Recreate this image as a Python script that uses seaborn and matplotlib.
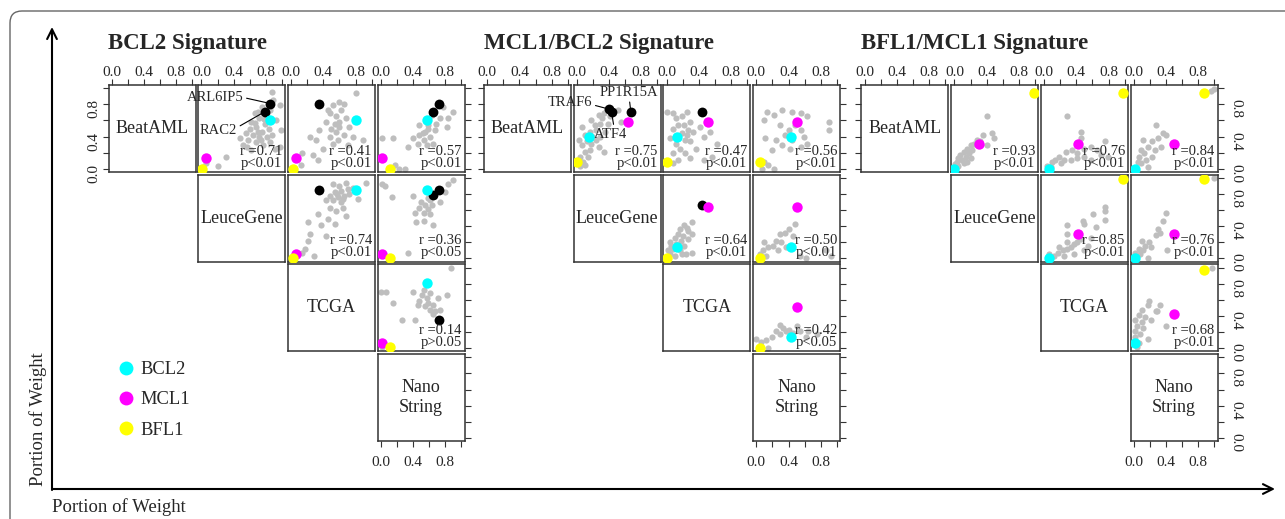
import numpy as np
import pandas as pd
import matplotlib
matplotlib.use("Agg")
import matplotlib.pyplot as plt
import seaborn as sns
from matplotlib.patches import FancyBboxPatch, FancyArrowPatch
from matplotlib.lines import Line2D
from matplotlib.transforms import IdentityTransform

sns.set_style("white")
plt.rcParams['font.family'] = ['Liberation Serif', 'DejaVu Serif']

# =====================
# DATA
# =====================
datasets = ["BeatAML", "LeuceGene", "TCGA", "Nano\nString"]
titles = ["BCL2 Signature", "MCL1/BCL2 Signature", "BFL1/MCL1 Signature"]
pairs = [(0, 1), (0, 2), (0, 3), (1, 2), (1, 3), (2, 3)]

r_bcl2 = ["0.71", "0.41", "0.57", "0.74", "0.36", "0.14"]
p_bcl2 = ["p<0.01", "p<0.01", "p<0.01", "p<0.01", "p<0.05", "p>0.05"]
r_mcl1 = ["0.75", "0.47", "0.56", "0.64", "0.50", "0.42"]
p_mcl1 = ["p<0.01", "p<0.01", "p<0.01", "p<0.01", "p<0.01", "p<0.05"]
r_bfl1 = ["0.93", "0.76", "0.84", "0.85", "0.76", "0.68"]
p_bfl1 = ["p<0.01"] * 6

# highlighted genes: value in BeatAML, LeuceGene, TCGA, NanoString
g1_bcl2 = [0.61, 0.855, 0.81, 0.57]
g1_mcl1 = [0.13, 0.055, 0.065, 0.02]
g1_bfl1 = [0.0, 0.01, 0.02, 0.11]
g1_arl6ip5 = [0.81, 0.855, 0.35, 0.72]
g1_rac2 = [0.71, 0.79, np.nan, 0.65]

g2_bcl2 = [0.40, 0.145, 0.135, 0.43]
g2_mcl1 = [0.58, 0.635, 0.515, 0.505]
g2_bfl1 = [0.08, 0.0, 0.0, 0.045]
g2_pp1r15a = [0.70, 0.67, 0.435, np.nan]
g2_traf6 = [0.74, 0.40, np.nan, np.nan]
g2_atf4 = [0.70, 0.43, np.nan, np.nan]

g3_bcl2 = [0.0, 0.0, 0.065, 0.015]
g3_mcl1 = [0.31, 0.305, 0.425, 0.495]
g3_bfl1 = [0.94, 0.99, 0.975, 0.87]

# gray genes (x = column dataset, y = row dataset)
g1_p01 = [(0.88,0.95),(0.97,0.79),(0.99,0.48),(0.93,0.60),(0.97,0.27),(0.84,0.50),(0.79,0.56),
          (0.72,0.63),(0.66,0.69),(0.62,0.58),(0.68,0.52),(0.75,0.46),(0.81,0.40),(0.64,0.42),
          (0.58,0.36),(0.52,0.29),(0.68,0.33),(0.77,0.29),(0.85,0.33),(0.81,0.69),(0.75,0.77),
          (0.85,0.73),(0.60,0.50),(0.70,0.46),(0.48,0.38),(0.56,0.27),(0.62,0.23),(0.31,0.15),
          (0.21,0.03),(0.06,0.07),(0.02,0.02),(0.89,0.85),(0.91,0.25),(0.72,0.40),(0.66,0.57),
          (0.78,0.62),(0.55,0.45),(0.74,0.36),(0.70,0.70),(0.88,0.42)]
g1_p02 = [(0.81,0.94),(0.66,0.81),(0.52,0.79),(0.62,0.73),(0.48,0.69),(0.56,0.65),(0.68,0.63),
          (0.43,0.58),(0.54,0.56),(0.60,0.52),(0.50,0.50),(0.35,0.48),(0.56,0.46),(0.66,0.42),
          (0.48,0.40),(0.58,0.36),(0.31,0.36),(0.52,0.31),(0.70,0.29),(0.23,0.40),(0.14,0.19),
          (0.27,0.17),(0.12,0.05),(0.33,0.11),(0.60,0.58),(0.72,0.52),(0.46,0.73),(0.77,0.40),
          (0.89,0.36),(0.60,0.83),(0.39,0.25)]
g1_p03 = [(0.82,0.52),(0.84,0.63),(0.77,0.77),(0.67,0.48),(0.59,0.54),(0.55,0.46),(0.61,0.40),
          (0.53,0.36),(0.48,0.42),(0.65,0.31),(0.57,0.29),(0.46,0.31),(0.40,0.38),(0.34,0.27),
          (0.69,0.56),(0.63,0.67),(0.73,0.63),(0.48,0.54),(0.01,0.38),(0.15,0.38),(0.22,0.0),
          (0.30,0.0),(0.18,0.05),(0.90,0.70),(0.58,0.50),(0.52,0.44)]
g1_p12 = [(0.52,0.92),(0.60,0.90),(0.68,0.94),(0.70,0.86),(0.62,0.84),(0.54,0.82),(0.48,0.78),
          (0.58,0.76),(0.66,0.78),(0.72,0.80),(0.52,0.72),(0.62,0.70),(0.43,0.72),(0.48,0.63),
          (0.56,0.59),(0.93,0.94),(0.83,0.74),(0.33,0.55),(0.68,0.53),(0.46,0.49),(0.54,0.43),
          (0.37,0.41),(0.21,0.45),(0.23,0.30),(0.43,0.28),(0.21,0.22),(0.17,0.12),(0.29,0.03),
          (0.14,0.07),(0.77,0.88),(0.64,0.63),(0.57,0.80),(0.65,0.74)]
g1_p13 = [(0.01,0.93),(0.05,0.90),(0.14,0.76),(0.40,0.77),(0.84,0.92),(0.90,0.97),(0.80,0.82),
          (0.73,0.70),(0.61,0.72),(0.55,0.67),(0.48,0.63),(0.59,0.61),(0.42,0.57),(0.53,0.57),
          (0.61,0.55),(0.44,0.45),(0.65,0.41),(0.34,0.07),(0.58,0.75),(0.50,0.70),(0.64,0.66),
          (0.53,0.47)]
g1_p23 = [(0.87,0.99),(0.0,0.70),(0.06,0.70),(0.15,0.56),(0.40,0.70),(0.51,0.66),(0.61,0.68),
          (0.82,0.66),(0.71,0.62),(0.48,0.58),(0.59,0.56),(0.65,0.54),(0.55,0.52),(0.61,0.48),
          (0.67,0.46),(0.46,0.54),(0.73,0.48),(0.26,0.35),(0.42,0.35),(0.57,0.62),(0.53,0.72),
          (0.01,0.02),(0.65,0.43)]

g2_p01 = [(0.04,0.03),(0.08,0.09),(0.04,0.15),(0.10,0.21),(0.06,0.29),(0.12,0.34),(0.02,0.36),
          (0.18,0.31),(0.20,0.40),(0.16,0.46),(0.24,0.48),(0.22,0.54),(0.29,0.56),(0.31,0.63),
          (0.33,0.69),(0.27,0.67),(0.18,0.60),(0.37,0.73),(0.51,0.73),(0.55,0.58),(0.06,0.52),
          (0.10,0.42),(0.29,0.40),(0.35,0.46),(0.27,0.27),(0.33,0.21),(0.14,0.15),(0.10,0.05),
          (0.16,0.23),(0.39,0.56),(0.41,0.65),(0.24,0.36)]
g2_p02 = [(0.01,0.71),(0.08,0.69),(0.12,0.63),(0.19,0.65),(0.25,0.71),(0.14,0.54),(0.21,0.54),
          (0.08,0.50),(0.27,0.48),(0.19,0.44),(0.23,0.36),(0.04,0.38),(0.12,0.31),(0.29,0.34),
          (0.17,0.25),(0.08,0.19),(0.23,0.19),(0.14,0.11),(0.29,0.13),(0.08,0.07),(0.41,0.52),
          (0.46,0.40),(0.54,0.46),(0.62,0.31),(0.37,0.25),(0.46,0.11),(0.56,0.15),(0.29,0.58),
          (0.33,0.46),(0.25,0.42)]
g2_p03 = [(0.13,0.71),(0.22,0.67),(0.32,0.73),(0.44,0.71),(0.55,0.69),(0.63,0.65),(0.09,0.60),
          (0.30,0.54),(0.40,0.48),(0.48,0.54),(0.55,0.48),(0.36,0.42),(0.44,0.36),(0.24,0.36),
          (0.11,0.38),(0.32,0.29),(0.42,0.25),(0.19,0.23),(0.55,0.27),(0.90,0.58),(0.90,0.48),
          (0.09,0.09),(0.15,0.05),(0.22,0.0),(0.07,0.0),(0.59,0.40),(0.63,0.31)]
g2_p12 = [(0.31,0.45),(0.22,0.41),(0.16,0.36),(0.27,0.34),(0.31,0.30),(0.20,0.28),(0.10,0.26),
          (0.04,0.20),(0.18,0.22),(0.27,0.24),(0.12,0.18),(0.22,0.16),(0.08,0.12),(0.16,0.10),
          (0.04,0.05),(0.10,0.03),(0.24,0.05),(0.31,0.07),(0.02,0.10),(0.14,0.30),(0.25,0.38),
          (0.06,0.15),(0.19,0.06)]
g2_p13 = [(0.48,0.43),(0.41,0.36),(0.35,0.32),(0.29,0.30),(0.46,0.28),(0.25,0.22),(0.21,0.16),
          (0.14,0.14),(0.08,0.10),(0.04,0.05),(0.12,0.03),(0.27,0.10),(0.37,0.14),(0.54,0.03),
          (0.93,0.03),(0.87,0.10),(0.62,0.01),(0.10,0.20),(0.31,0.20)]
g2_p23 = [(0.29,0.29),(0.33,0.25),(0.37,0.21),(0.41,0.23),(0.46,0.19),(0.54,0.21),(0.25,0.21),
          (0.19,0.14),(0.12,0.10),(0.06,0.08),(0.0,0.12),(0.14,0.0),(0.62,0.14),(0.75,0.17),
          (0.29,0.17),(0.50,0.27),(0.64,0.21)]

g3_p01 = [(0.41,0.65),(0.47,0.44),(0.49,0.38),(0.36,0.42),(0.28,0.36),(0.20,0.29),(0.16,0.25),
          (0.12,0.21),(0.07,0.17),(0.05,0.13),(0.03,0.09),(0.01,0.06),(0.10,0.11),(0.14,0.15),
          (0.18,0.19),(0.22,0.23),(0.24,0.31),(0.32,0.34),(0.12,0.07),(0.05,0.03),(0.16,0.09),
          (0.20,0.14),(0.41,0.29),(0.98,0.97)]
g3_p02 = [(0.28,0.65),(0.46,0.46),(0.46,0.38),(0.75,0.34),(0.58,0.27),(0.35,0.23),(0.27,0.21),
          (0.19,0.15),(0.10,0.09),(0.14,0.11),(0.25,0.11),(0.33,0.11),(0.41,0.13),(0.50,0.15),
          (0.58,0.11),(0.70,0.17),(0.04,0.03),(0.08,0.02),(0.21,0.07),(0.50,0.25),(0.66,0.23),
          (0.79,0.15),(0.41,0.19)]
g3_p03 = [(0.99,0.99),(0.96,0.96),(0.28,0.54),(0.36,0.45),(0.40,0.42),(0.30,0.38),(0.11,0.36),
          (0.22,0.34),(0.17,0.27),(0.09,0.23),(0.13,0.19),(0.07,0.15),(0.05,0.09),(0.09,0.07),
          (0.15,0.11),(0.22,0.15),(0.17,0.02),(0.26,0.23),(0.34,0.27)]
g3_p12 = [(0.75,0.64),(0.75,0.59),(0.61,0.55),(0.75,0.48),(0.28,0.42),(0.48,0.47),(0.50,0.43),
          (0.28,0.31),(0.65,0.39),(0.58,0.26),(0.46,0.24),(0.41,0.20),(0.37,0.18),(0.33,0.14),
          (0.29,0.12),(0.23,0.10),(0.17,0.07),(0.12,0.03),(0.06,0.05),(0.25,0.03),(0.37,0.05),
          (0.50,0.10),(0.54,0.16),(0.43,0.28),(0.29,0.20),(0.19,0.14)]
g3_p13 = [(0.99,1.0),(0.40,0.56),(0.36,0.47),(0.30,0.36),(0.33,0.32),(0.28,0.29),(0.10,0.22),
          (0.19,0.20),(0.14,0.16),(0.06,0.12),(0.02,0.07),(0.08,0.05),(0.17,0.0),(0.41,0.10),
          (0.12,0.10),(0.21,0.14)]
g3_p23 = [(0.97,1.0),(0.19,0.58),(0.17,0.54),(0.33,0.53),(0.29,0.46),(0.10,0.48),(0.06,0.41),
          (0.14,0.39),(0.02,0.35),(0.10,0.33),(0.21,0.35),(0.04,0.27),(0.12,0.25),(0.02,0.21),
          (0.08,0.17),(0.01,0.14),(0.40,0.28),(0.17,0.11),(0.06,0.06),(0.04,0.02),(0.27,0.46)]

groups = [
    dict(title=titles[0], gray=[g1_p01, g1_p02, g1_p03, g1_p12, g1_p13, g1_p23],
         r=r_bcl2, p=p_bcl2, black=[g1_arl6ip5, g1_rac2],
         colored=[(g1_bcl2, "#00FFFF"), (g1_mcl1, "#FF00FF"), (g1_bfl1, "#FFFF00")]),
    dict(title=titles[1], gray=[g2_p01, g2_p02, g2_p03, g2_p12, g2_p13, g2_p23],
         r=r_mcl1, p=p_mcl1, black=[g2_pp1r15a, g2_traf6, g2_atf4],
         colored=[(g2_bcl2, "#00FFFF"), (g2_mcl1, "#FF00FF"), (g2_bfl1, "#FFFF00")]),
    dict(title=titles[2], gray=[g3_p01, g3_p02, g3_p03, g3_p12, g3_p13, g3_p23],
         r=r_bfl1, p=p_bfl1, black=[],
         colored=[(g3_bcl2, "#00FFFF"), (g3_mcl1, "#FF00FF"), (g3_bfl1, "#FFFF00")]),
]

# =====================
# LAYOUT
# =====================
W, H = 1285, 519
fig = plt.figure(figsize=(W / 100, H / 100), dpi=100)

group_left = [108.5, 484, 861.5]
row_top = 85
step = 89.7
size = 87
ticks = [0, 0.2, 0.4, 0.6, 0.8, 1.0]
tick_lab = ["0.0", "", "0.4", "", "0.8", ""]
edge = "#333333"


def make_panel(left, top):
    ax = fig.add_axes([left / W, 1 - (top + size) / H, size / W, size / H])
    ax.set_xlim(-0.04, 1.04)
    ax.set_ylim(-0.04, 1.04)
    ax.set_xticks(ticks)
    ax.set_yticks(ticks)
    ax.set_xticklabels(tick_lab)
    ax.set_yticklabels(tick_lab)
    ax.tick_params(which="both", left=False, right=False, top=False, bottom=False,
                   labelleft=False, labelright=False, labeltop=False, labelbottom=False,
                   direction="out", length=4, width=0.8, labelsize=11, color=edge)
    for s in ax.spines.values():
        s.set_color(edge)
        s.set_linewidth(1.1)
    ax.grid(False)
    return ax


for gi, g in enumerate(groups):
    gl = group_left[gi]
    fig.text(gl / W, 1 - 44 / H, g["title"], fontsize=16.5, fontweight="bold",
             ha="left", va="center")
    axes = {}
    for i in range(4):
        for j in range(i, 4):
            ax = make_panel(gl + j * step, row_top + i * step)
            axes[(i, j)] = ax
            if i == 0:
                ax.tick_params(axis="x", top=True, labeltop=True, pad=0.5)
            if j == 3:
                ax.tick_params(axis="y", right=True)
                if gi == 2:
                    ax.tick_params(axis="y", labelright=True, labelrotation=-90, pad=4.5)
            if i == 0 and j == 0:
                ax.tick_params(axis="y", left=True)
                if gi == 0:
                    ax.tick_params(axis="y", labelleft=True, labelrotation=90, pad=1.5)
            if i == 3 and j == 3:
                ax.tick_params(axis="x", bottom=True, labelbottom=True, pad=6.5)
            if i == j:
                ax.text(0.5, 0.5, datasets[i], transform=ax.transAxes, ha="center",
                        va="center", fontsize=13, linespacing=1.2)

    for k, (i, j) in enumerate(pairs):
        ax = axes[(i, j)]
        pts = pd.DataFrame(g["gray"][k], columns=["x", "y"])
        sns.scatterplot(data=pts, x="x", y="y", color="#BEBEBE", s=20, linewidth=0,
                        ax=ax, legend=False, zorder=2)
        for gene in g["black"]:
            if not (np.isnan(gene[i]) or np.isnan(gene[j])):
                sns.scatterplot(x=[gene[j]], y=[gene[i]], color="black", s=50,
                                linewidth=0, ax=ax, legend=False, zorder=3)
        for gene, col in g["colored"]:
            sns.scatterplot(x=[gene[j]], y=[gene[i]], color=col, s=56, linewidth=0,
                            ax=ax, legend=False, zorder=4)
        ax.set(xlabel="", ylabel="")
        ax.text(0.965, 0.20, "r =" + g["r"][k], transform=ax.transAxes, ha="right",
                va="baseline", fontsize=10.5, zorder=5)
        ax.text(0.965, 0.06, g["p"][k], transform=ax.transAxes, ha="right",
                va="baseline", fontsize=10.5, zorder=5)

    ax01 = axes[(0, 1)]
    line = dict(arrowstyle="-", lw=0.8, color="black", shrinkA=0, shrinkB=3)
    if gi == 0:
        ax01.annotate("ARL6IP5", xy=(g1_arl6ip5[1], g1_arl6ip5[0]), xytext=(0.52, 0.885),
                      ha="right", va="center", fontsize=10.5, annotation_clip=False,
                      arrowprops=dict(line, relpos=(1.0, 0.5)))
        ax01.annotate("RAC2", xy=(g1_rac2[1], g1_rac2[0]), xytext=(0.44, 0.47),
                      ha="right", va="center", fontsize=10.5,
                      arrowprops=dict(line, relpos=(1.0, 0.75)))
    if gi == 1:
        ax01.annotate("TRAF6", xy=(g2_traf6[1], g2_traf6[0]), xytext=(0.19, 0.82),
                      ha="right", va="center", fontsize=10.5, annotation_clip=False,
                      arrowprops=dict(line, relpos=(1.0, 0.35)))
        ax01.annotate("PP1R15A", xy=(g2_pp1r15a[1], g2_pp1r15a[0]), xytext=(0.65, 0.95),
                      ha="center", va="center", fontsize=10.5,
                      arrowprops=dict(line, relpos=(0.5, 0.0)))
        ax01.annotate("ATF4", xy=(g2_atf4[1], g2_atf4[0]), xytext=(0.42, 0.43),
                      ha="center", va="center", fontsize=10.5,
                      arrowprops=dict(line, relpos=(0.6, 1.0)))

# legend
handles = [Line2D([], [], marker="o", ls="", markersize=10, markeredgewidth=0,
                  color=c) for c in ["#00FFFF", "#FF00FF", "#FFFF00"]]
fig.legend(handles, ["BCL2", "MCL1", "BFL1"], loc="upper left",
           bbox_to_anchor=(116.5 / W, 1 - 361 / H), frameon=False, fontsize=13.3,
           handlelength=1.0, handletextpad=0.3, labelspacing=0.72, borderpad=0,
           borderaxespad=0)

# outer frame and big axes arrows
frame = FancyBboxPatch((10, -40), 1320, 548, boxstyle="round,pad=0,rounding_size=12",
                       transform=IdentityTransform(), fill=False, ec="#666666", lw=1.0)
fig.patches.append(frame)
arrow_kw = dict(arrowstyle="->,head_length=7,head_width=3.5", mutation_scale=1,
                lw=1.5, color="black", transform=IdentityTransform(),
                shrinkA=0, shrinkB=0)
fig.patches.append(FancyArrowPatch((52, H - 490), (52, H - 27), **arrow_kw))
fig.patches.append(FancyArrowPatch((52, H - 489), (1275, H - 489), **arrow_kw))
fig.text(38 / W, 1 - 419 / H, "Portion of Weight", rotation=90, ha="center",
         va="center", fontsize=13.5)
fig.text(52 / W, 1 - 507 / H, "Portion of Weight", ha="left", va="center",
         fontsize=13.5)

fig.savefig("out.png", dpi=100)
